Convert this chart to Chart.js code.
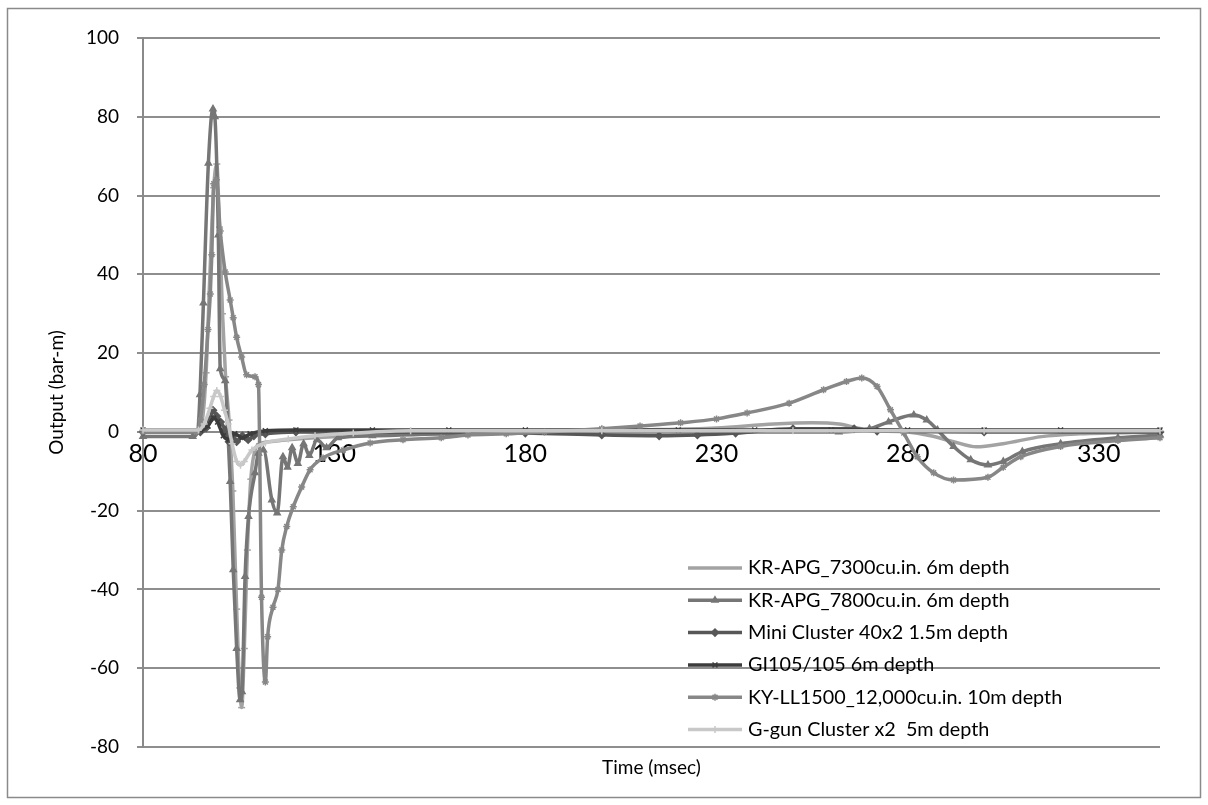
<!DOCTYPE html>
<html>
<head>
<meta charset="utf-8">
<script src="https://cdn.jsdelivr.net/npm/chart.js@4.4.0/dist/chart.umd.min.js"></script>
<style>
  html, body { margin: 0; padding: 0; background: #fff; }
</style>
</head>
<body>
<canvas id="outputChart" width="1208" height="805"></canvas>
<script>
// tick labels
const xTicks = [80, 130, 180, 230, 280, 330];

// series names
const seriesNames = [
  "KR-APG_7300cu.in. 6m depth",
  "KR-APG_7800cu.in. 6m depth",
  "Mini Cluster 40x2 1.5m depth",
  "GI105/105 6m depth",
  "KY-LL1500_12,000cu.in. 10m depth",
  "G-gun Cluster x2  5m depth"
];

// values (time in msec, output in bar-m)
const kr7300Time = [80, 94, 95.5, 96.5, 97.5, 98.5, 99.3, 100, 100.8, 101.6, 102.5, 103.5, 104.5, 105.3, 105.8, 106.5, 107.3, 108.2, 109.2, 110.5, 113, 118, 125, 135, 150, 180, 210, 230, 245, 255, 262, 268, 278, 286, 292, 298, 305, 315, 325, 346];
const kr7300Output = [0.3, 0.3, 3, 15, 40, 62, 68, 52, 30, 14, 3, -15, -45, -65, -70, -55, -30, -12, -5, -3, -2.5, -2, -1.5, -1, -0.5, 0, 0.5, 1, 2, 2.3, 2, 0.8, 0.2, -1, -2.5, -3.8, -3, -1.2, -0.5, 0];

const kr7800Time = [80, 93, 94.3, 94.9, 95.8, 97.1, 98.3, 98.8, 99.7, 100.2, 101.5, 102.2, 102.8, 103.6, 104.5, 105.4, 105.9, 106.7, 107.6, 109.3, 110.2, 111.5, 113.7, 115.1, 116.6, 117.8, 119, 120.5, 122, 123.5, 125.5, 128, 131, 140, 160, 200, 262, 270, 275, 281.6, 285, 287.8, 292, 296.5, 301, 305, 310, 320, 335, 346];
const kr7800Output = [-1.2, -1.2, 0, 9.4, 32.7, 68.2, 82, 80, 50, 16, 13, 0, -12.6, -35, -55, -68, -66, -36.7, -21.5, -10.4, -5.4, -4.6, -17.3, -20.6, -6.3, -9, -4, -8, -3, -6, -2, -4, -1.5, -1, -0.5, 0, 0, 0.8, 2.5, 4.3, 3, 0.5, -3.7, -7.1, -8.4, -7.5, -5, -3, -1.5, -0.8];

const miniTime = [80, 95, 96.5, 97.5, 98.3, 99.3, 100.3, 101.5, 102.5, 103.5, 104.5, 106, 107.5, 109, 112, 120, 180, 200, 215, 225, 235, 250, 266, 272, 300, 346];
const miniOutput = [0, 0, 1, 3, 5.5, 4, 2.5, 0.5, -2.5, -1, -2.5, -1, -2, -1, -0.5, 0, -0.3, -0.8, -1, -0.8, -0.3, 0.8, 0.8, 0.2, 0, 0];

const gi105Time = [80, 95, 97, 98.5, 99.5, 101, 102.5, 104, 106, 108, 112, 120, 140, 160, 180, 200, 220, 240, 260, 280, 300, 320, 346];
const gi105Output = [0.5, 0.5, 1.5, 3.5, 2.5, -1, -2, -0.5, -1.5, -0.5, 0.3, 0.5, 0.5, 0.5, 0.5, 0.5, 0.5, 0.5, 0.5, 0.5, 0.5, 0.5, 0.5];

const kyTime = [80, 94, 95, 96, 97, 97.6, 98, 98.5, 99.2, 100.2, 101.5, 102.8, 103.6, 104.5, 105.8, 107.1, 109.3, 110.2, 111, 112, 112.6, 114, 115.3, 116.3, 117.6, 119.3, 121.5, 123.7, 127.1, 132.4, 139.4, 148, 158, 165, 175, 185, 200, 210, 220.6, 230, 238, 249, 258, 264, 268, 272, 275.5, 279, 282.5, 286.8, 292, 301, 305, 309.6, 320, 335, 346];
const kyOutput = [0, 0, 3, 12, 26, 35, 45, 63, 64, 51, 40.6, 33.5, 29, 24, 19, 14.5, 14, 12, -42, -63.5, -52, -44.5, -40, -30, -24, -19, -14, -9.6, -6.6, -4.6, -2.8, -2, -1.5, -0.8, -0.5, 0, 0.8, 1.5, 2.3, 3.3, 4.8, 7.3, 10.7, 12.8, 13.7, 11.5, 5.6, -0.3, -6.3, -10.4, -12.2, -11.5, -9, -6.3, -3.7, -2.2, -1.5];

const ggunTime = [80, 94.5, 96, 97.5, 98.5, 99.3, 100.3, 101.3, 102.3, 103.3, 104.5, 105.5, 106.5, 108.5, 112, 118, 125, 135, 150, 200, 250, 300, 346];
const ggunOutput = [0.5, 0.5, 2, 6, 9, 10.5, 9, 5.5, 2, -3, -7.5, -8.5, -7.5, -4.6, -2.8, -1.8, -1, -0.3, 0.3, 0.3, 0.3, 0.3, 0.3];

const toPoints = (t, v) => t.map((x, i) => ({ x: x, y: v[i] }));

const seriesData = [
  toPoints(kr7300Time, kr7300Output),
  toPoints(kr7800Time, kr7800Output),
  toPoints(miniTime, miniOutput),
  toPoints(gi105Time, gi105Output),
  toPoints(kyTime, kyOutput),
  toPoints(ggunTime, ggunOutput)
];
const seriesColors = ["#a3a3a3", "#767676", "#575757", "#3c3c3c", "#878787", "#c8c8c8"];
const seriesMarkers = ["line", "triangle", "rectRot", "crossRot", "star", "cross"];

const FONT = "Lato, 'Open Sans', sans-serif";

const datasets = seriesNames.map((name, i) => ({
  label: name,
  data: seriesData[i],
  borderColor: seriesColors[i],
  backgroundColor: seriesColors[i],
  borderWidth: 3.5,
  pointStyle: seriesMarkers[i],
  pointRadius: 3.5,
  pointBorderWidth: 1.5,
  pointBackgroundColor: seriesColors[i],
  pointBorderColor: seriesColors[i],
  cubicInterpolationMode: "monotone",
  clip: false,
  order: seriesNames.length - i
}));

// outer frame and white background
const framePlugin = {
  id: "frame",
  beforeDraw(chart) {
    const ctx = chart.ctx;
    ctx.save();
    ctx.fillStyle = "#fff";
    ctx.fillRect(0, 0, chart.width, chart.height);
    ctx.restore();
  },
  afterDraw(chart) {
    const ctx = chart.ctx;
    ctx.save();
    ctx.strokeStyle = "#8a8a8a";
    ctx.lineWidth = 1.5;
    ctx.strokeRect(7.5, 8.5, 1193, 789);
    ctx.restore();
  }
};

// excel-like legend inside the plot (line sample with marker)
const legendPlugin = {
  id: "plotLegend",
  afterDatasetsDraw(chart) {
    const ctx = chart.ctx;
    chart.data.datasets.forEach((ds, i) => {
      const y = 568 + i * 32.3;
      ctx.save();
      ctx.strokeStyle = ds.borderColor;
      ctx.fillStyle = ds.borderColor;
      ctx.lineWidth = 3.5;
      ctx.beginPath();
      ctx.moveTo(688, y);
      ctx.lineTo(742, y);
      ctx.stroke();
      if (Chart.helpers && Chart.helpers.drawPoint) {
        ctx.lineWidth = 1.5;
        Chart.helpers.drawPoint(ctx, { pointStyle: ds.pointStyle, radius: 3.5, borderWidth: 1.5, rotation: 0 }, 715, y);
      }
      ctx.fillStyle = "#000";
      ctx.font = "19.8px " + FONT;
      ctx.textBaseline = "middle";
      ctx.textAlign = "left";
      ctx.fillText(ds.label, 748, y);
      ctx.restore();
    });
  }
};

new Chart(document.getElementById("outputChart"), {
  type: "line",
  data: { datasets: datasets },
  options: {
    responsive: false,
    animation: false,
    devicePixelRatio: 1,
    layout: { padding: { left: 8, right: 48, top: 38, bottom: 8 } },
    plugins: {
      legend: { display: false },
      tooltip: { enabled: false }
    },
    scales: {
      x: {
        type: "linear",
        position: { y: 0 },
        min: 80,
        max: 346,
        afterBuildTicks: (scale) => { scale.ticks = xTicks.map(v => ({ value: v })); },
        afterFit: (scale) => { scale.height = 0; },
        grid: { display: false, drawTicks: false },
        border: { display: true, color: "#8a8a8a", width: 2 },
        ticks: {
          autoSkip: false,
          maxRotation: 0,
          padding: 7,
          color: "#000",
          font: { family: FONT, size: 25 }
        }
      },
      xTitle: {
        type: "linear",
        axis: "x",
        position: "bottom",
        afterFit: (scale) => { scale.height = 50; },
        grid: { display: false },
        border: { display: false },
        ticks: { display: false },
        title: {
          display: true,
          text: "Time (msec)",
          color: "#000",
          padding: { top: 0, bottom: 18 },
          font: { family: FONT, size: 19 }
        }
      },
      y: {
        min: -80,
        max: 100,
        afterFit: (scale) => { scale.width = 135; },
        ticks: {
          stepSize: 20,
          padding: 18,
          color: "#000",
          font: { family: FONT, size: 19 }
        },
        grid: {
          color: "#8e8e8e",
          lineWidth: 2,
          tickLength: 6,
          tickColor: "#8e8e8e"
        },
        border: { display: true, color: "#8a8a8a", width: 2 },
        title: {
          display: true,
          text: "Output (bar-m)",
          color: "#000",
          padding: { top: 37, bottom: 0 },
          font: { family: FONT, size: 19 }
        }
      }
    }
  },
  plugins: [framePlugin, legendPlugin]
});
</script>
</body>
</html>
